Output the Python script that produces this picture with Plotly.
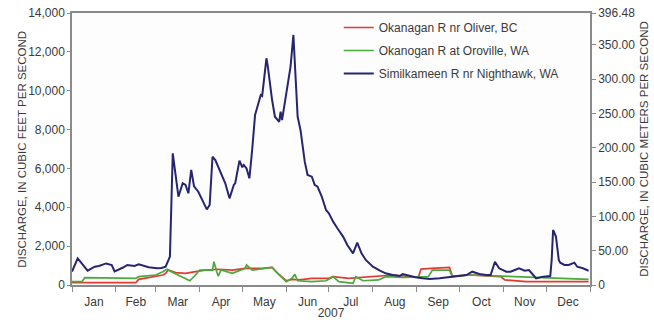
import plotly.graph_objects as go

# Daily-discharge hydrographs, 2007 (cubic feet per second)
simil_dates = [
    "2007-01-01", "2007-01-05", "2007-01-12", "2007-01-17", "2007-01-20", "2007-01-25",
    "2007-01-29", "2007-01-31", "2007-02-06", "2007-02-09", "2007-02-14", "2007-02-17",
    "2007-02-24", "2007-03-02", "2007-03-05", "2007-03-08", "2007-03-11", "2007-03-13",
    "2007-03-17", "2007-03-20", "2007-03-22", "2007-03-24", "2007-03-26", "2007-03-28",
    "2007-03-31", "2007-04-04", "2007-04-06", "2007-04-08", "2007-04-10", "2007-04-12",
    "2007-04-15", "2007-04-19", "2007-04-22", "2007-04-25", "2007-04-26", "2007-04-29",
    "2007-05-01", "2007-05-02", "2007-05-04", "2007-05-06", "2007-05-08", "2007-05-10",
    "2007-05-14", "2007-05-15", "2007-05-18", "2007-05-19", "2007-05-22", "2007-05-24",
    "2007-05-27", "2007-05-28", "2007-05-29", "2007-06-03", "2007-06-04", "2007-06-06",
    "2007-06-08", "2007-06-09", "2007-06-11", "2007-06-13", "2007-06-14", "2007-06-16",
    "2007-06-19", "2007-06-21", "2007-06-23", "2007-06-26", "2007-06-29", "2007-07-01",
    "2007-07-04", "2007-07-07", "2007-07-11", "2007-07-14", "2007-07-18", "2007-07-21",
    "2007-07-24", "2007-07-27", "2007-08-01", "2007-08-06", "2007-08-10", "2007-08-15",
    "2007-08-20", "2007-08-22", "2007-08-26", "2007-08-31", "2007-09-05", "2007-09-10",
    "2007-09-17", "2007-09-24", "2007-09-29", "2007-10-06", "2007-10-10", "2007-10-15",
    "2007-10-20", "2007-10-23", "2007-10-26", "2007-10-29", "2007-11-03", "2007-11-06",
    "2007-11-09", "2007-11-12", "2007-11-16", "2007-11-19", "2007-11-22", "2007-11-24",
    "2007-11-29", "2007-12-04", "2007-12-05", "2007-12-06", "2007-12-08", "2007-12-10",
    "2007-12-11", "2007-12-14", "2007-12-17", "2007-12-21", "2007-12-23", "2007-12-27",
    "2007-12-31",
]
simil_cfs = [
    690, 1370, 740, 940, 980, 1110,
    1030, 700, 900, 1030, 980, 1060,
    910, 860, 880, 940, 1460, 6780,
    4545, 5235, 5150, 4720, 5920, 5080,
    4800, 4205, 3895, 4118, 6600, 6430,
    5920, 5235, 4460, 5150, 5235, 6400,
    6060, 6180, 6000, 5490, 7000, 8750,
    9780, 9730, 11670, 11240, 9520, 8660,
    8400, 8920, 8490, 10720, 11240, 12870,
    10040, 8660, 7980, 6950, 6350, 5660,
    5575, 5150, 5060, 4545, 3860, 3690,
    3260, 2920, 2490, 2060, 1630, 2180,
    1630, 1290, 940, 735, 600, 515,
    460, 565, 480, 395, 345, 310,
    345, 395, 460, 515, 685, 565,
    515, 515, 1200, 860, 685, 685,
    770, 860, 735, 770, 515, 345,
    430, 460, 1290, 2830, 2490, 1290,
    1150, 1030, 1030, 1150, 940, 860,
    735,
]

oliver_dates = [
    "2007-01-01", "2007-02-15", "2007-02-17", "2007-02-27", "2007-03-06", "2007-03-08",
    "2007-03-10", "2007-03-15", "2007-03-22", "2007-03-29", "2007-04-05", "2007-04-14",
    "2007-04-24", "2007-05-03", "2007-05-15", "2007-05-22", "2007-05-26", "2007-06-01",
    "2007-06-05", "2007-06-10", "2007-06-19", "2007-07-01", "2007-07-04", "2007-07-15",
    "2007-07-29", "2007-08-15", "2007-09-02", "2007-09-04", "2007-09-11", "2007-09-24",
    "2007-09-26", "2007-10-08", "2007-10-24", "2007-10-30", "2007-11-02", "2007-11-17",
    "2007-12-31",
]
oliver_cfs = [
    120, 120, 290, 430, 515, 600,
    770, 635, 600, 685, 770, 810,
    770, 860, 860, 910, 600, 220,
    290, 260, 345, 345, 430, 345,
    430, 515, 395, 820, 860, 910,
    460, 515, 460, 430, 260, 170,
    170,
]

oroville_dates = [
    "2007-01-01", "2007-01-08", "2007-01-10", "2007-01-20", "2007-02-01", "2007-02-15",
    "2007-02-17", "2007-03-01", "2007-03-06", "2007-03-09", "2007-03-12", "2007-03-17",
    "2007-03-25", "2007-03-29", "2007-04-01", "2007-04-10", "2007-04-11", "2007-04-13",
    "2007-04-14", "2007-04-16", "2007-04-24", "2007-05-03", "2007-05-04", "2007-05-08",
    "2007-05-17", "2007-05-22", "2007-05-27", "2007-06-01", "2007-06-05", "2007-06-07",
    "2007-06-09", "2007-06-19", "2007-06-29", "2007-07-04", "2007-07-08", "2007-07-18",
    "2007-07-20", "2007-07-25", "2007-08-05", "2007-08-10", "2007-08-22", "2007-09-09",
    "2007-09-12", "2007-09-24", "2007-09-26", "2007-10-08", "2007-10-31", "2007-12-06",
    "2007-12-31",
]
oroville_cfs = [
    170, 170, 375, 375, 345, 345,
    430, 515, 685, 810, 685, 515,
    220, 515, 770, 770, 1200, 685,
    460, 770, 600, 860, 1030, 770,
    860, 910, 515, 170, 345, 550,
    220, 170, 220, 430, 170, 85,
    430, 220, 260, 430, 395, 430,
    770, 770, 430, 515, 460, 345,
    290,
]

CFS_TO_CMS = 0.0283168
right_ticks = [0, 50, 100, 150, 200, 250, 300, 350, 396.48]
right_labels = ["0", "50.00", "100.00", "150.00", "200.00", "250.00", "300.00", "350.00", "396.48"]
left_ticks = [0, 2000, 4000, 6000, 8000, 10000, 12000, 14000]

RED = "#e23a31"
GREEN = "#4aa83d"
NAVY = "#27256f"
AXIS = "#8a8a8a"
TEXT = "#3a3a3a"
FONT = "Liberation Sans, Arial, sans-serif"

fig = go.Figure()
fig.add_trace(go.Scatter(x=oliver_dates, y=oliver_cfs, mode="lines",
                         name="Okanagan R nr Oliver, BC", legendgroup="a",
                         line=dict(color=RED, width=1.7)))
fig.add_trace(go.Scatter(x=oroville_dates, y=oroville_cfs, mode="lines",
                         name="Okanogan R at Oroville, WA", legendgroup="b",
                         line=dict(color=GREEN, width=1.7)))
fig.add_trace(go.Scatter(x=simil_dates, y=simil_cfs, mode="lines",
                         name="Similkameen R nr Nighthawk, WA", legendgroup="c",
                         line=dict(color=NAVY, width=2)))
# invisible companion trace that carries the metric axis
fig.add_trace(go.Scatter(x=simil_dates, y=[v * CFS_TO_CMS for v in simil_cfs],
                         yaxis="y2", mode="lines", showlegend=False,
                         hoverinfo="skip", line=dict(width=0), opacity=0))

fig.update_layout(
    width=654, height=320,
    margin=dict(l=72, r=64, t=13, b=35),
    paper_bgcolor="white", plot_bgcolor="#fdfdfd",
    font=dict(family=FONT, size=12, color=TEXT),
    showlegend=True,
    legend=dict(x=0.515, y=1.0, xanchor="left", yanchor="top",
                bgcolor="rgba(0,0,0,0)", font=dict(size=12, color=TEXT),
                tracegroupgap=4),
    xaxis=dict(
        type="date", range=["2007-01-01", "2008-01-01"], automargin=False,
        dtick="M1", tick0="2007-01-01", tickformat="%b", ticklabelmode="period",
        ticks="outside", ticklen=5, tickcolor=AXIS,
        showline=True, linecolor=AXIS, linewidth=1.5, mirror=True,
        showgrid=False, zeroline=False,
        title=dict(text="2007", font=dict(size=12, color=TEXT), standoff=0),
        tickfont=dict(size=12, color=TEXT),
    ),
    yaxis=dict(
        range=[0, 14000], tickvals=left_ticks, tickformat=",d", automargin=False,
        ticks="outside", ticklen=3, tickcolor=AXIS,
        showline=True, linecolor=AXIS, linewidth=1.5,
        showgrid=False, zeroline=False,
        tickfont=dict(size=12, color=TEXT),
    ),
    yaxis2=dict(
        overlaying="y", side="right", range=[0, 396.48], automargin=False,
        tickvals=right_ticks, ticktext=right_labels,
        ticks="outside", ticklen=4, tickcolor=AXIS,
        showline=True, linecolor=AXIS, linewidth=1.5,
        showgrid=False, zeroline=False,
        title=dict(text="DISCHARGE, IN CUBIC METERS PER SECOND",
                   font=dict(size=11.5, color=TEXT), standoff=6),
        tickfont=dict(size=12, color=TEXT),
    ),
    annotations=[dict(
        text="DISCHARGE, IN CUBIC FEET PER SECOND",
        xref="paper", yref="paper", x=-0.097, y=0.5,
        xanchor="center", yanchor="middle", textangle=-90, showarrow=False,
        font=dict(size=11.5, color=TEXT),
    )],
)

fig.write_html("out.html")
